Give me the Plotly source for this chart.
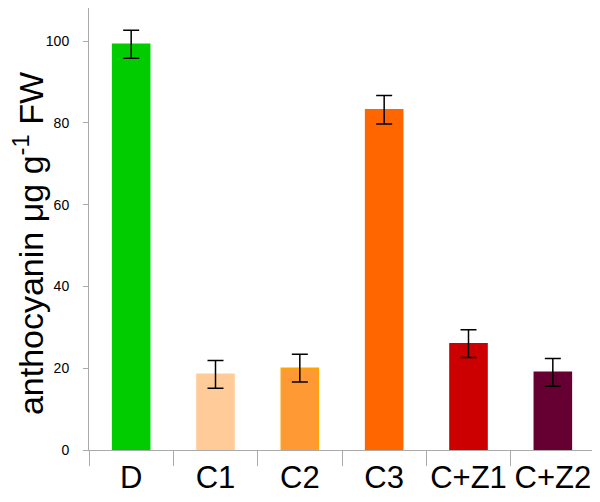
import plotly.graph_objects as go

categories = ["D", "C1", "C2", "C3", "C+Z1", "C+Z2"]
values = [99.2, 18.5, 20.0, 83.2, 26.0, 19.0]
errors = [3.4, 3.4, 3.4, 3.5, 3.4, 3.4]
bar_colors = ["#00cc00", "#ffcc99", "#ff9933", "#ff6600", "#cc0000", "#660033"]
line_colors = ["#00cc00", "#ffcc99", "#ffa500", "#ff6600", "#cc0000", "#660033"]
y_ticks = [0, 20, 40, 60, 80, 100]
y_title = "anthocyanin μg g<sup>-1</sup> FW"

fig = go.Figure()
fig.add_trace(go.Bar(
    x=categories, y=values,
    marker=dict(color=bar_colors, line=dict(color=line_colors, width=1.5)),
    width=0.44,
    error_y=dict(type="data", array=errors, visible=True, color="black",
                 thickness=1.5, width=8),
))

# page has an 8px body margin, so the figure is sized to fit the 600x502 window
fig.update_layout(
    width=592, height=494,
    margin=dict(l=81, r=5, t=0, b=52),
    paper_bgcolor="white", plot_bgcolor="white",
    showlegend=False,
    font=dict(family="Liberation Sans, Arial, sans-serif", color="black"),
)
fig.add_annotation(
    text=y_title, textangle=-90, showarrow=False,
    xref="paper", yref="paper", x=-0.1206, y=0.468,
    xanchor="center", yanchor="middle",
    font=dict(size=34, color="black"),
)
fig.update_yaxes(
    range=[0, 108.07], tickvals=y_ticks, ticks="outside", ticklen=5,
    tickcolor="#aaaaaa", showline=True, linecolor="#aaaaaa", linewidth=1,
    showgrid=False, zeroline=False, tickfont=dict(size=14),
    ticklabelstandoff=11, automargin=False,
)
fig.update_xaxes(
    ticks="outside", tickson="boundaries", ticklen=15, tickcolor="#aaaaaa",
    showline=True, linecolor="#aaaaaa", linewidth=1, showgrid=False,
    tickfont=dict(size=31), tickangle=0, automargin=False,
)

fig.write_html("out.html")
